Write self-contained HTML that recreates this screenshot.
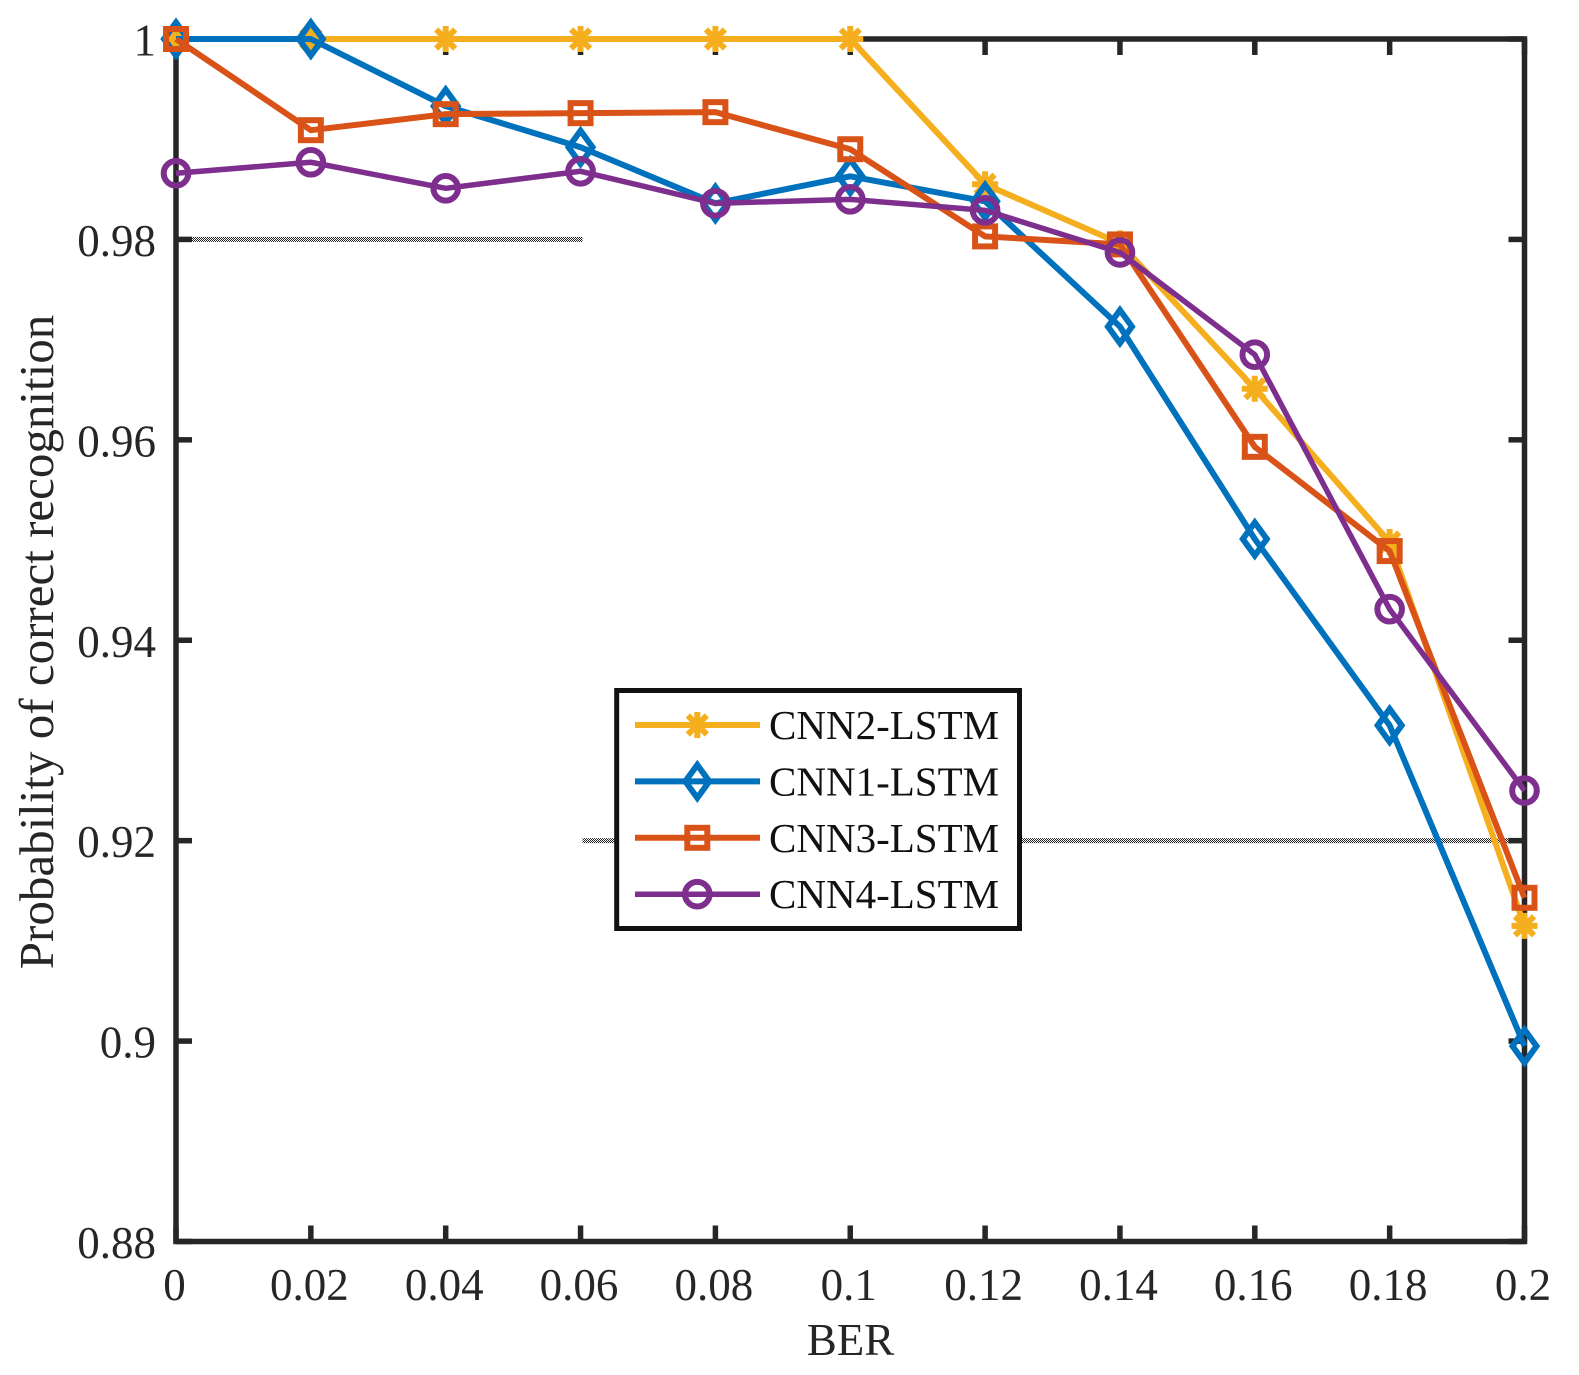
<!DOCTYPE html>
<html lang="en">
<head>
<meta charset="utf-8">
<title>Probability of correct recognition vs BER</title>
<style>
html,body{margin:0;padding:0;background:#fff;}
svg{display:block;font-family:"Liberation Serif",serif;}
</style>
</head>
<body>
<svg id="chart" xmlns="http://www.w3.org/2000/svg" width="1579" height="1375" viewBox="0 0 1579 1375">
<defs>
<pattern id="dither" width="2" height="2" patternUnits="userSpaceOnUse">
<rect width="2" height="2" fill="#fff"/>
<rect width="1" height="1" fill="#222"/>
<rect x="1" y="1" width="1" height="1" fill="#222"/>
</pattern>
</defs>
<g id="grid"></g>
<g id="axes"></g>
<g id="series"></g>
<text transform="translate(53,642) rotate(-90)" text-anchor="middle" font-size="49" fill="#262626">Probability of correct recognition</text>
<text x="850.5" y="1355" text-anchor="middle" font-size="45" fill="#262626">BER</text>
<g id="legend"></g>
</svg>
<script>
const berValues = [0, 0.02, 0.04, 0.06, 0.08, 0.1, 0.12, 0.14, 0.16, 0.18, 0.2];
const xTickLabels = ['0', '0.02', '0.04', '0.06', '0.08', '0.1', '0.12', '0.14', '0.16', '0.18', '0.2'];
const yTickValues = [0.88, 0.9, 0.92, 0.94, 0.96, 0.98, 1];
const yTickLabels = ['0.88', '0.9', '0.92', '0.94', '0.96', '0.98', '1'];
const cnn2Values = [1, 1, 1, 1, 1, 1, 0.9855, 0.9796, 0.9651, 0.9498, 0.9115];
const cnn1Values = [1, 1, 0.9933, 0.9892, 0.9836, 0.9863, 0.9838, 0.9713, 0.9501, 0.9315, 0.8995];
const cnn3Values = [1, 0.9909, 0.9925, 0.9926, 0.9927, 0.989, 0.9803, 0.9795, 0.9593, 0.9489, 0.9143];
const cnn4Values = [0.9866, 0.9877, 0.9851, 0.9868, 0.9836, 0.984, 0.9829, 0.9787, 0.9685, 0.9431, 0.925];
const seriesNames = ['CNN2-LSTM', 'CNN1-LSTM', 'CNN3-LSTM', 'CNN4-LSTM'];

const NS = 'http://www.w3.org/2000/svg';
const L = 176, R = 1524.5, T = 39, B = 1241.5;
const xMin = 0, xMax = 0.2, yMin = 0.88, yMax = 1;
const INK = '#262626';
function xScale(v) { return L + (v - xMin) / (xMax - xMin) * (R - L); }
function yScale(v) { return B - (v - yMin) / (yMax - yMin) * (B - T); }
function mk(tag, attrs, parent) {
  const el = document.createElementNS(NS, tag);
  for (const k in attrs) el.setAttribute(k, attrs[k]);
  parent.appendChild(el);
  return el;
}
const gridG = document.getElementById('grid');
const axesG = document.getElementById('axes');
const seriesG = document.getElementById('series');
const legendG = document.getElementById('legend');

/* dithered stray lines */
const stray1 = mk('rect', {x: L, y: yScale(0.98) - 2.5, width: xScale(0.06) + 2 - L, height: 5, fill: 'url(#dither)'}, gridG);


const stray2 = mk('rect', {x: xScale(0.06) + 2, y: yScale(0.92) - 2.5, width: R - xScale(0.06) - 2, height: 5, fill: 'url(#dither)'}, gridG);



/* axes box */
const box = mk('rect', {x: L, y: T, width: R - L, height: B - T, fill: 'none', stroke: INK, 'stroke-width': 5.5}, axesG);



/* ticks */
berValues.forEach(function (v, i) {
  const x = xScale(v);
  const t1 = mk('line', {x1: x, x2: x, y1: B, y2: B - 16, stroke: INK, 'stroke-width': 5.5}, axesG);
  
  
  const t2 = mk('line', {x1: x, x2: x, y1: T, y2: T + 16, stroke: INK, 'stroke-width': 5.5}, axesG);
  
  
  const lab = mk('text', {x: x - 1.5, y: 1300, 'text-anchor': 'middle', 'font-size': 45, fill: INK}, axesG);
  
  
  lab.textContent = xTickLabels[i];
});
yTickValues.forEach(function (v, i) {
  const y = yScale(v);
  const t1 = mk('line', {x1: L, x2: L + 16, y1: y, y2: y, stroke: INK, 'stroke-width': 5.5}, axesG);
  
  
  const t2 = mk('line', {x1: R, x2: R - 16, y1: y, y2: y, stroke: INK, 'stroke-width': 5.5}, axesG);
  
  
  const lab = mk('text', {x: 156, y: y + 16.5, 'text-anchor': 'end', 'font-size': 45, fill: INK}, axesG);
  
  
  lab.textContent = yTickLabels[i];
});

/* markers */
function marker(kind, x, y, color, parent) {
  const base = {fill: 'none', stroke: color};
  let el;
  if (kind === 'star') {
    const d = 'M' + (x - 13) + ' ' + y + 'H' + (x + 13) +
      'M' + x + ' ' + (y - 13) + 'V' + (y + 13) +
      'M' + (x - 9.5) + ' ' + (y - 9.5) + 'L' + (x + 9.5) + ' ' + (y + 9.5) +
      'M' + (x - 9.5) + ' ' + (y + 9.5) + 'L' + (x + 9.5) + ' ' + (y - 9.5);
    el = mk('path', Object.assign({d: d, 'stroke-width': 6}, base), parent);
  } else if (kind === 'diamond') {
    const d = 'M' + x + ' ' + (y - 16.5) + 'L' + (x + 12) + ' ' + y + 'L' + x + ' ' + (y + 16.5) + 'L' + (x - 12) + ' ' + y + 'Z';
    el = mk('path', Object.assign({d: d, 'stroke-width': 6, 'stroke-linejoin': 'miter'}, base), parent);
  } else if (kind === 'square') {
    el = mk('rect', Object.assign({x: x - 10, y: y - 10, width: 20, height: 20, 'stroke-width': 6}, base), parent);
  } else {
    el = mk('circle', Object.assign({cx: x, cy: y, r: 12.3, 'stroke-width': 6}, base), parent);
  }
  return el;
}

const seriesValues = [cnn2Values, cnn1Values, cnn3Values, cnn4Values];
const seriesColors = ['#F5AF1E', '#0072BD', '#D95319', '#7E2F8E'];
const seriesMarkers = ['star', 'diamond', 'square', 'circle'];
const seriesWidths = [6, 6, 6, 5.5];

seriesValues.forEach(function (vals, s) {
  const g = mk('g', {}, seriesG);
  
  
  const pts = vals.map(function (v, i) { return xScale(berValues[i]) + ',' + yScale(v); }).join(' ');
  const line = mk('polyline', {points: pts, fill: 'none', stroke: seriesColors[s], 'stroke-width': seriesWidths[s], 'stroke-linejoin': 'round'}, g);
  
  
  vals.forEach(function (v, i) {
    const m = marker(seriesMarkers[s], xScale(berValues[i]), yScale(v), seriesColors[s], g);
    
    
  });
});

/* legend */
const legendBox = mk('rect', {x: 616.7, y: 690.5, width: 402.8, height: 238, fill: '#fff', stroke: '#111', 'stroke-width': 5}, legendG);


seriesNames.forEach(function (name, s) {
  const y = 725 + s * 56.4;
  const g = mk('g', {}, legendG);
  
  
  const ln = mk('line', {x1: 635, x2: 760, y1: y, y2: y, stroke: seriesColors[s], 'stroke-width': seriesWidths[s]}, g);
  
  
  const m = marker(seriesMarkers[s], 697.3, y, seriesColors[s], g);
  
  
  const t = mk('text', {x: 769, y: y + 14, 'font-size': 41, fill: '#111'}, g);
  
  
  t.textContent = name;
});
</script>
</body>
</html>
